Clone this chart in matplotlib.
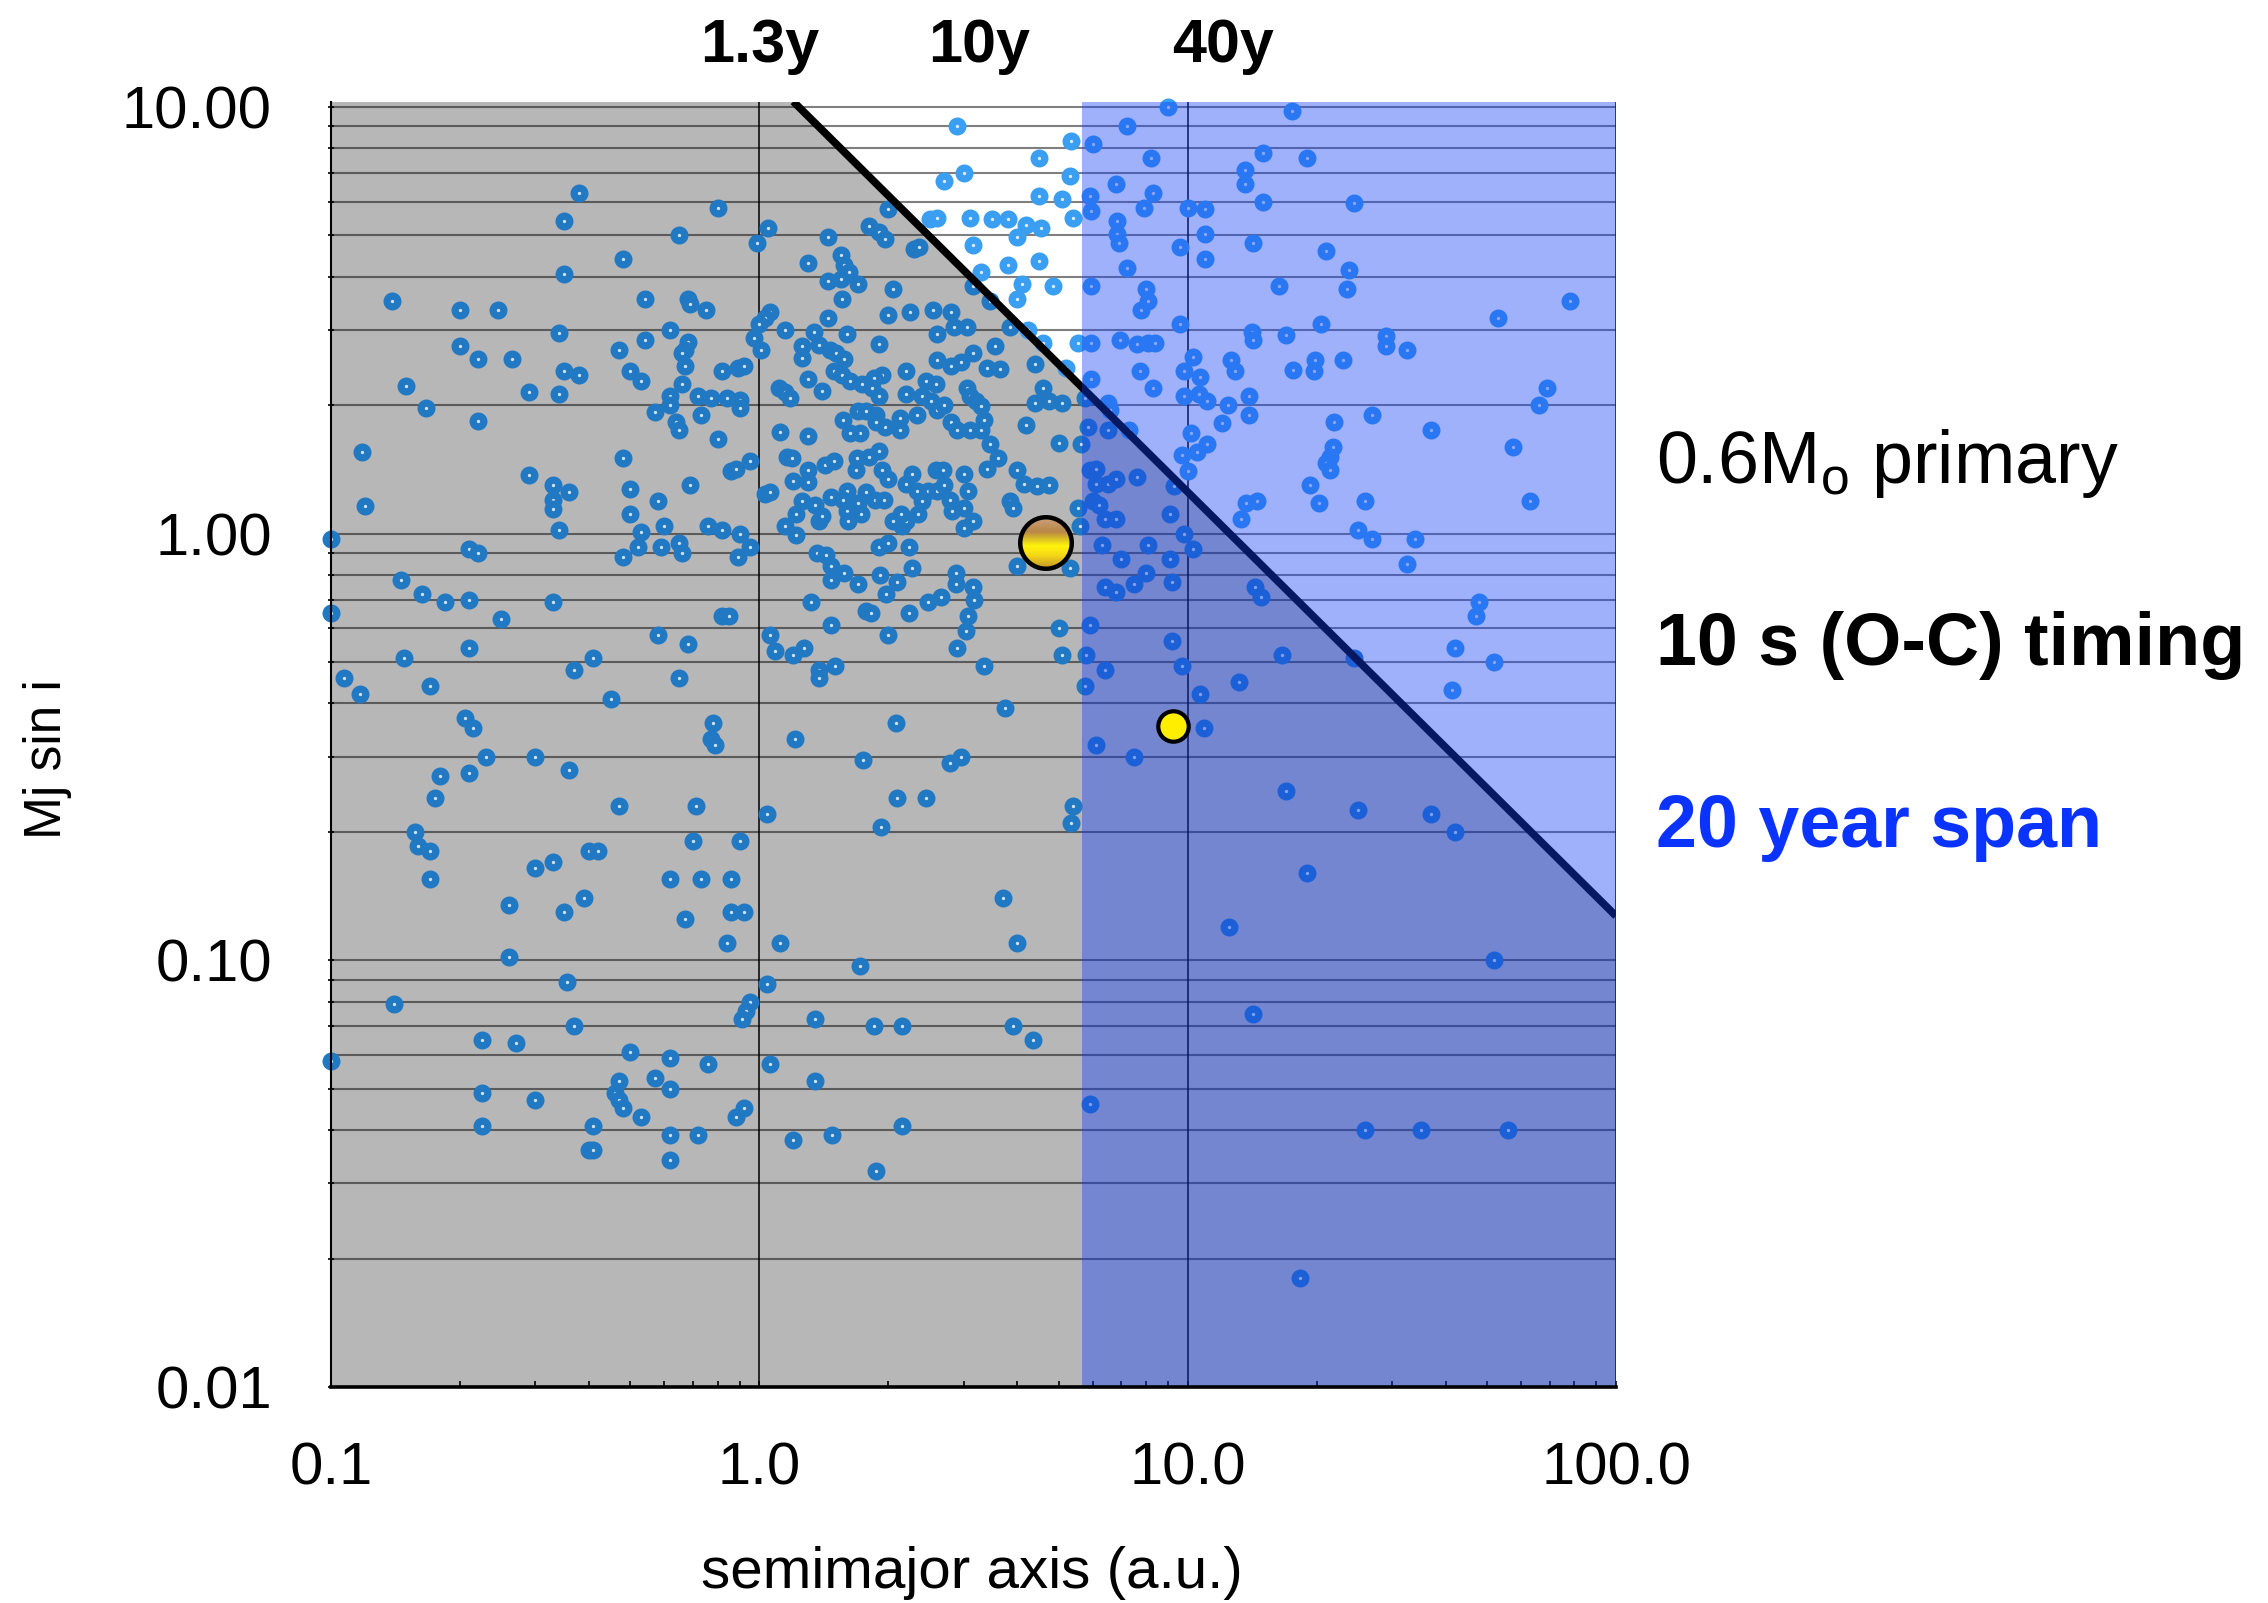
import numpy as np
import matplotlib
matplotlib.use("Agg")
import matplotlib.pyplot as plt
import matplotlib.transforms as mtransforms
from matplotlib.ticker import LogLocator, NullFormatter, FixedLocator, FixedFormatter
from matplotlib.offsetbox import OffsetImage, AnnotationBbox

# ---------------- data (semimajor axis [au], M sin i [Mj]) ----------------
pts_upper_inner = [
    (2.9, 9.0), (5.35, 8.3), (6.0, 8.2), (7.2, 9.0), (4.5, 7.6), (3.0, 7.0), (2.7, 6.7), (5.3, 6.9), (6.8, 6.6), (0.38, 6.3),
    (4.5, 6.2), (5.1, 6.1), (5.9, 6.2), (5.95, 5.7), (0.80, 5.8), (2.0, 5.75), (2.5, 5.45), (2.6, 5.5), (3.1, 5.5), (3.5, 5.45),
    (3.8, 5.45), (4.2, 5.3), (4.55, 5.2), (5.4, 5.5), (6.85, 5.4), (6.85, 5.05), (6.9, 4.8), (7.9, 5.8), (0.35, 5.4), (1.05, 5.2),
    (0.65, 5.0), (0.99, 4.8), (1.45, 4.95), (1.8, 5.25), (1.9, 5.1), (1.97, 4.9), (4.0, 4.95), (3.15, 4.75), (2.3, 4.65), (2.36, 4.7),
    (7.2, 4.2), (0.48, 4.4), (1.3, 4.3), (1.55, 4.5), (1.58, 4.25), (1.62, 4.1), (3.8, 4.25), (4.5, 4.35), (0.35, 4.05), (1.45, 3.9),
    (1.55, 3.95), (1.7, 3.85), (3.3, 4.1), (3.15, 3.8), (4.1, 3.85), (4.0, 3.55), (4.85, 3.8), (5.95, 3.8), (8.0, 3.75), (8.1, 3.5),
    (7.8, 3.35), (2.05, 3.75), (0.139, 3.5), (0.54, 3.55), (0.68, 3.55), (0.69, 3.45), (0.75, 3.35), (0.20, 3.35), (0.245, 3.35), (1.56, 3.55),
    (3.45, 3.5), (2.0, 3.25), (2.25, 3.3), (2.55, 3.35), (2.8, 3.3), (2.85, 3.05), (3.05, 3.05), (1.06, 3.3), (1.03, 3.2), (3.85, 3.05),
    (4.25, 3.0), (0.62, 3.0), (0.34, 2.95), (1.15, 3.0), (1.34, 2.97), (1.45, 3.2), (0.54, 2.85), (0.97, 2.88), (1.0, 3.1), (1.6, 2.93),
    (2.6, 2.93), (3.55, 2.75), (4.6, 2.8), (5.55, 2.8), (5.95, 2.8), (6.95, 2.85), (7.6, 2.78), (8.1, 2.8), (0.68, 2.82), (0.67, 2.7),
    (0.66, 2.65), (0.20, 2.75), (0.22, 2.57), (0.265, 2.57), (0.47, 2.7), (1.01, 2.7), (1.26, 2.75), (1.26, 2.58), (1.38, 2.76), (1.46, 2.7),
    (1.51, 2.65), (1.58, 2.57), (1.9, 2.78), (3.15, 2.65), (2.95, 2.52), (2.6, 2.55), (2.8, 2.47), (3.4, 2.45), (3.65, 2.43), (4.4, 2.5),
    (5.2, 2.45), (5.95, 2.3), (7.75, 2.4), (0.67, 2.47), (0.82, 2.4), (0.89, 2.45), (0.92, 2.47), (0.35, 2.4), (0.38, 2.35), (0.50, 2.4),
    (0.53, 2.28), (1.49, 2.4), (1.56, 2.36), (2.2, 2.4), (1.93, 2.36), (1.85, 2.32), (0.15, 2.22), (1.3, 2.3), (1.63, 2.28), (1.74, 2.24),
    (1.83, 2.2), (2.45, 2.28), (2.58, 2.24), (3.05, 2.2), (3.1, 2.1), (0.66, 2.24), (1.11, 2.2), (1.15, 2.15), (1.18, 2.08), (1.4, 2.16),
    (4.6, 2.19), (0.29, 2.15), (0.34, 2.12), (0.62, 2.1), (0.72, 2.1), (0.77, 2.08), (0.84, 2.08), (0.90, 2.06), (2.2, 2.12), (2.4, 2.1),
    (2.52, 2.05), (1.9, 2.1), (3.2, 2.05), (3.3, 1.99), (4.4, 2.02), (4.75, 2.05), (5.1, 2.02), (5.75, 2.08), (6.5, 2.02), (6.6, 1.95),
    (0.167, 1.97), (0.62, 2.0), (0.57, 1.93), (0.73, 1.9), (0.90, 1.97), (1.7, 1.94), (1.77, 1.94), (1.87, 1.9), (2.13, 1.87), (2.33, 1.9),
    (2.6, 1.95), (2.7, 2.0), (1.57, 1.85), (0.22, 1.84), (0.64, 1.83), (0.65, 1.75), (2.8, 1.83), (2.9, 1.75), (3.1, 1.75), (3.3, 1.75),
    (4.2, 1.8), (3.35, 1.85), (1.12, 1.73), (1.3, 1.69), (0.80, 1.67), (1.72, 1.72), (1.63, 1.72), (2.13, 1.75), (1.96, 1.78), (1.87, 1.83),
    (3.45, 1.62), (5.0, 1.63), (5.65, 1.62), (6.5, 1.75), (7.3, 1.75), (5.85, 1.78),
]
pts_upper_outer = [
    (9.0, 10.0), (17.5, 9.8), (8.2, 7.6), (15.0, 7.8), (19.0, 7.6), (13.6, 7.1), (13.6, 6.6), (8.3, 6.3), (10.0, 5.8), (11.0, 5.75),
    (15.0, 6.0), (24.5, 5.95), (11.0, 5.05), (9.6, 4.7), (11.0, 4.4), (14.2, 4.8), (21.0, 4.6), (23.8, 4.15), (23.5, 3.75), (16.3, 3.8),
    (78.0, 3.5), (53.0, 3.2), (9.6, 3.1), (20.5, 3.1), (14.1, 2.97), (14.2, 2.85), (29.0, 2.9), (29.0, 2.75), (32.5, 2.7), (17.0, 2.92),
    (8.4, 2.8), (10.3, 2.6), (12.6, 2.55), (12.9, 2.4), (9.8, 2.4), (10.7, 2.33), (19.8, 2.55), (19.7, 2.4), (17.6, 2.42), (23.0, 2.55),
    (8.3, 2.2), (9.8, 2.1), (10.6, 2.12), (11.1, 2.05), (12.4, 2.0), (13.9, 2.1), (13.9, 1.9), (12.0, 1.82), (69.0, 2.2), (66.0, 2.0),
    (22.0, 1.83), (27.0, 1.9), (37.0, 1.75), (57.5, 1.6), (21.8, 1.6), (10.2, 1.72), (11.1, 1.62),
]
pts_mid_inner = [
    (0.118, 1.55), (0.48, 1.5), (0.29, 1.37), (0.33, 1.3), (0.33, 1.2), (0.33, 1.14), (0.36, 1.25), (0.34, 1.02), (0.12, 1.16), (0.50, 1.27),
    (0.50, 1.11), (0.58, 1.19), (0.69, 1.3), (0.53, 1.01), (0.60, 1.04), (0.52, 0.93), (0.59, 0.93), (0.65, 0.95), (0.66, 0.90), (0.48, 0.88),
    (0.21, 0.92), (0.22, 0.90), (0.76, 1.04), (0.82, 1.02), (0.90, 1.0), (0.95, 0.93), (0.89, 0.88), (0.86, 1.4), (0.88, 1.42), (0.95, 1.48),
    (1.03, 1.24), (1.06, 1.25), (1.16, 1.51), (1.19, 1.5), (1.2, 1.33), (1.3, 1.41), (1.42, 1.45), (1.49, 1.48), (1.3, 1.32), (1.26, 1.19),
    (1.35, 1.17), (1.22, 1.11), (1.15, 1.04), (1.22, 0.99), (1.38, 1.07), (1.4, 1.1),
    (1.47, 1.22), (1.6, 1.26), (1.57, 1.2), (1.6, 1.13), (1.7, 1.18), (1.77, 1.25), (1.86, 1.2), (1.95, 1.2),
    (1.69, 1.5), (1.8, 1.51), (1.9, 1.56), (1.68, 1.41), (1.93, 1.41), (2.0, 1.34), (1.61, 1.07), (1.73, 1.11),
    (2.2, 1.31), (2.27, 1.38), (2.33, 1.26), (2.4, 1.19), (2.48, 1.26), (2.6, 1.26), (2.58, 1.41), (2.68, 1.41), (2.7, 1.3),
    (2.78, 1.2), (3.0, 1.15), (3.0, 1.38), (3.07, 1.26),
    (2.15, 1.04), (2.2, 1.07), (2.14, 1.11), (2.05, 1.07), (2.35, 1.11), (2.82, 1.13), (3.0, 1.03), (3.15, 1.07),
    (3.4, 1.42), (3.6, 1.5), (4.0, 1.41), (4.15, 1.31), (4.45, 1.29), (4.75, 1.3), (3.85, 1.19), (3.92, 1.15),
    (1.36, 0.90), (1.43, 0.89), (1.47, 0.84), (1.47, 0.78), (1.58, 0.81), (1.7, 0.76),
    (1.9, 0.93), (2.0, 0.95), (2.23, 0.93), (2.27, 0.83), (1.91, 0.80), (2.1, 0.77), (1.98, 0.72), (2.23, 0.65), (2.48, 0.69), (2.66, 0.71),
    (2.88, 0.81), (2.88, 0.76), (3.15, 0.75), (3.17, 0.70), (3.07, 0.64), (3.03, 0.59), (2.9, 0.54), (2.0, 0.58), (1.77, 0.66), (1.82, 0.65),
    (1.32, 0.69), (1.47, 0.61), (1.5, 0.49), (1.38, 0.48), (1.38, 0.46), (1.06, 0.58), (1.09, 0.53), (1.2, 0.52), (1.27, 0.54), (3.35, 0.49),
    (3.75, 0.39), (2.08, 0.36), (1.21, 0.33), (4.0, 0.84),
    (0.146, 0.78), (0.163, 0.72), (0.185, 0.69), (0.21, 0.70), (0.25, 0.63), (0.33, 0.69), (0.10, 0.97), (0.10, 0.65), (0.58, 0.58), (0.68, 0.55),
    (0.82, 0.64), (0.85, 0.64), (0.148, 0.51), (0.21, 0.54), (0.41, 0.51), (0.37, 0.48), (0.107, 0.46), (0.117, 0.42), (0.17, 0.44), (0.45, 0.41),
    (0.65, 0.46), (0.78, 0.36), (0.77, 0.33), (0.79, 0.32), (0.205, 0.37), (0.215, 0.35), (0.23, 0.30), (0.18, 0.27), (0.21, 0.275), (0.30, 0.30),
    (0.36, 0.28), (0.175, 0.24), (0.157, 0.20), (0.16, 0.185), (0.17, 0.18), (0.17, 0.155), (0.47, 0.23), (0.71, 0.23), (1.04, 0.22), (1.75, 0.295),
    (2.78, 0.29), (2.96, 0.30), (2.1, 0.24), (2.45, 0.24), (1.92, 0.205), (0.40, 0.18), (0.42, 0.18), (0.30, 0.165), (0.33, 0.17), (0.70, 0.19),
    (0.90, 0.19), (0.62, 0.155), (0.73, 0.155), (0.86, 0.155), (0.26, 0.135), (0.35, 0.13), (0.39, 0.14), (0.67, 0.125), (0.86, 0.13), (0.92, 0.13),
    (0.84, 0.11), (1.12, 0.11), (3.7, 0.14), (4.0, 0.11),
]
pts_mid_outer = [
    (5.3, 0.83), (5.6, 1.04), (5.55, 1.15), (5.9, 1.41), (6.1, 1.42), (6.0, 1.19), (6.2, 1.17), (6.4, 1.08), (6.8, 1.08), (6.1, 1.31),
    (6.5, 1.31), (6.8, 1.34), (6.3, 0.94), (7.0, 0.87), (8.1, 0.94), (7.6, 1.36), (9.1, 1.11), (9.8, 1.0), (10.3, 0.92), (9.1, 0.87),
    (9.2, 0.77), (8.0, 0.81), (7.5, 0.76), (6.4, 0.75), (6.8, 0.73), (9.3, 1.29), (10.0, 1.4), (9.7, 1.53), (10.5, 1.55), (13.3, 1.08),
    (13.7, 1.18), (14.5, 1.19), (14.4, 0.75), (14.8, 0.71), (19.3, 1.3), (20.3, 1.18), (21.5, 1.51), (21.0, 1.46), (21.5, 1.41), (26.0, 1.19),
    (25.0, 1.02), (27.0, 0.97), (34.0, 0.97), (32.5, 0.85), (63.0, 1.19), (48.0, 0.69), (47.0, 0.64), (42.0, 0.54), (52.0, 0.50), (41.5, 0.43),
    (24.5, 0.51), (16.6, 0.52), (13.2, 0.45), (10.7, 0.42), (10.9, 0.35), (9.7, 0.49), (9.2, 0.56), (6.4, 0.48), (5.9, 0.61), (5.8, 0.52),
    (5.75, 0.44), (5.0, 0.60), (5.1, 0.52), (6.1, 0.32), (7.5, 0.30), (5.4, 0.23), (5.35, 0.21), (17.0, 0.25), (25.0, 0.225), (37.0, 0.22),
    (42.0, 0.20), (19.0, 0.16), (12.5, 0.12),
]
pts_low_inner = [
    (0.26, 0.102), (0.14, 0.079), (0.355, 0.089), (0.37, 0.070), (0.225, 0.065), (0.27, 0.064), (0.225, 0.049), (0.225, 0.041), (0.30, 0.047),
    (0.41, 0.041), (0.40, 0.036), (0.41, 0.036), (0.50, 0.061), (0.47, 0.052), (0.46, 0.049), (0.47, 0.047), (0.48, 0.045), (0.53, 0.043),
    (0.57, 0.053), (0.62, 0.059), (0.62, 0.050), (0.62, 0.039), (0.62, 0.034), (0.72, 0.039), (0.76, 0.057), (0.95, 0.080), (0.93, 0.076),
    (0.91, 0.073), (1.04, 0.088), (1.06, 0.057), (0.92, 0.045), (0.88, 0.043), (1.35, 0.073), (1.35, 0.052), (1.85, 0.070), (2.15, 0.070),
    (1.72, 0.097), (1.2, 0.038), (1.48, 0.039), (2.15, 0.041), (1.87, 0.032), (3.9, 0.070), (4.35, 0.065), (0.10, 0.058),
]
pts_low_outer = [
    (52.0, 0.10), (14.2, 0.075), (5.9, 0.046), (26.0, 0.040), (35.0, 0.040), (56.0, 0.040), (18.3, 0.018),
]

# detection threshold (10 s O-C timing, 0.6 Msun primary)
threshold_a = [1.2, 100.0]
threshold_m = [10.3, 0.127]
# 20-year baseline
span_a_min = 5.67
span_a_max = 100.0
# highlighted planets
jupiter_a, jupiter_m = 4.67, 0.95
small_a, small_m = 9.25, 0.355

x_ticks = [0.1, 1.0, 10.0, 100.0]
x_ticklabels = ["0.1", "1.0", "10.0", "100.0"]
y_ticks = [0.01, 0.1, 1.0, 10.0]
y_ticklabels = ["0.01", "0.10", "1.00", "10.00"]
period_labels = ["1.3y", "10y", "40y"]

# ---------------- styling / layout ----------------
plt.rcParams["font.family"] = ["Liberation Sans", "DejaVu Sans"]
plt.rcParams["mathtext.fontset"] = "custom"
plt.rcParams["mathtext.rm"] = "Liberation Sans"
plt.rcParams["mathtext.it"] = "Liberation Sans:italic"
plt.rcParams["mathtext.bf"] = "Liberation Sans:bold"

W, H = 2268, 1603
fig = plt.figure(figsize=(W / 100, H / 100), dpi=100)
ax = fig.add_axes([331 / W, 1 - 1387 / H, (1616 - 331) / W, (1387 - 102) / H])
ax.set_xscale("log")
ax.set_yscale("log")
xmin, xmax = 0.1, 100.0
ymin, ymax = 0.01, 10.27
ax.set_xlim(xmin, xmax)
ax.set_ylim(ymin, ymax)

all_pts = np.array(pts_upper_inner + pts_upper_outer + pts_mid_inner +
                   pts_mid_outer + pts_low_inner + pts_low_outer)
a_vals, m_vals = all_pts[:, 0], all_pts[:, 1]

# grey "undetectable" region below the threshold line
ax.fill([xmin, xmin, threshold_a[0], threshold_a[1], threshold_a[1]],
        [ymin, ymax, threshold_m[0], threshold_m[1], ymin],
        color="#b7b7b7", lw=0, zorder=0.2)

# grid
ax.set_axisbelow(True)
ax.yaxis.set_major_locator(FixedLocator(y_ticks))
ax.yaxis.set_major_formatter(FixedFormatter(y_ticklabels))
ax.yaxis.set_minor_locator(LogLocator(base=10, subs=range(2, 10)))
ax.yaxis.set_minor_formatter(NullFormatter())
ax.xaxis.set_major_locator(FixedLocator(x_ticks))
ax.xaxis.set_major_formatter(FixedFormatter(x_ticklabels))
ax.xaxis.set_minor_locator(LogLocator(base=10, subs=range(2, 10)))
ax.xaxis.set_minor_formatter(NullFormatter())
ax.yaxis.grid(True, which="both", color="black", alpha=0.5, lw=1.5)
ax.xaxis.grid(True, which="major", color="black", alpha=0.85, lw=1.3)

# dots: colour depends on whether they are above the detection line
line_at = np.interp(np.log10(a_vals), np.log10(threshold_a), np.log10(threshold_m))
above = np.log10(m_vals) > line_at
ax.scatter(a_vals[~above], m_vals[~above], s=60, facecolor="#cfe1f2",
           edgecolor="#2178c3", linewidths=5.2, zorder=2, clip_on=False)
ax.scatter(a_vals[above], m_vals[above], s=60, facecolor="#dcecfc",
           edgecolor="#3a9ef2", linewidths=5.2, zorder=2, clip_on=False)

# threshold line
ax.plot(threshold_a, threshold_m, color="black", lw=5.5,
        solid_capstyle="butt", zorder=2.5)

# 20-year span overlay
ax.axvspan(span_a_min, span_a_max, color=(18 / 255, 62 / 255, 247 / 255),
           alpha=0.4, lw=0, zorder=3)

# small yellow planet
ax.scatter([small_a], [small_m], s=480, facecolor="#ffee00",
           edgecolor="black", linewidths=3.0, zorder=6, clip_on=False)

# Jupiter-like marker with vertical gradient
def gradient_disc(d=56, ring=4.5):
    yy, xx = np.mgrid[0:d, 0:d] + 0.5
    r = np.hypot(xx - d / 2, yy - d / 2)
    t = yy / d
    st = [0.0, 0.3, 0.55, 0.72, 1.0]
    sc = np.array([[205, 165, 135], [185, 135, 70], [255, 245, 10],
                   [245, 215, 25], [185, 135, 45]]) / 255.0
    rgb = np.stack([np.interp(t, st, sc[:, k]) for k in range(3)], -1)
    R = d / 2
    ringmask = np.clip(r - (R - ring) + 0.5, 0, 1)
    rgb = rgb * (1 - ringmask[..., None])
    alpha = np.clip(R - r + 0.5, 0, 1)
    return np.dstack([rgb, alpha])

jup = AnnotationBbox(OffsetImage(gradient_disc(), zoom=1, dpi_cor=False),
                     (jupiter_a, jupiter_m), frameon=False, pad=0,
                     zorder=7, annotation_clip=False)
ax.add_artist(jup)

# spines and ticks
for side in ["top", "right"]:
    ax.spines[side].set_visible(False)
ax.spines["left"].set_linewidth(1.5)
ax.spines["bottom"].set_linewidth(2.6)
ax.spines["left"].set_zorder(4)
ax.spines["bottom"].set_zorder(4)
ax.tick_params(axis="x", which="both", direction="in", length=4.5, width=1.2,
               color="black")
ax.tick_params(axis="x", which="major", pad=39, labelsize=43)
ax.tick_params(axis="y", which="both", direction="inout", length=5, width=1.2,
               color="black")
ax.tick_params(axis="y", which="major", pad=40, labelsize=43)

# period labels along the top
trans = mtransforms.blended_transform_factory(ax.transData, fig.transFigure)
period_label_x = [1.0, 3.26, 12.1]
for xl, lab in zip(period_label_x, period_labels):
    ax.text(xl, 1 - 62 / H, lab, transform=trans, ha="center", va="baseline",
            fontsize=44, fontweight="bold", clip_on=False)

# axis labels
fig.text(972 / W, 1 - 1588 / H, "semimajor axis (a.u.)", ha="center",
         va="baseline", fontsize=42)
fig.text(48 / W, 1 - 759 / H, "Mj sin i", ha="center", va="center",
         rotation=90, fontsize=37)

# right-hand annotations
tx = 1656 / W
fig.text(tx, 1 - 483 / H, r"0.6M$_\mathrm{o}$ primary", ha="left",
         va="baseline", fontsize=53)
fig.text(tx, 1 - 665 / H, "10 s (O-C) timing", ha="left", va="baseline",
         fontsize=53, fontweight="bold")
fig.text(tx, 1 - 847 / H, "20 year span", ha="left", va="baseline",
         fontsize=53, fontweight="bold", color="#0a33ff")

fig.savefig("out.png", dpi=100)
